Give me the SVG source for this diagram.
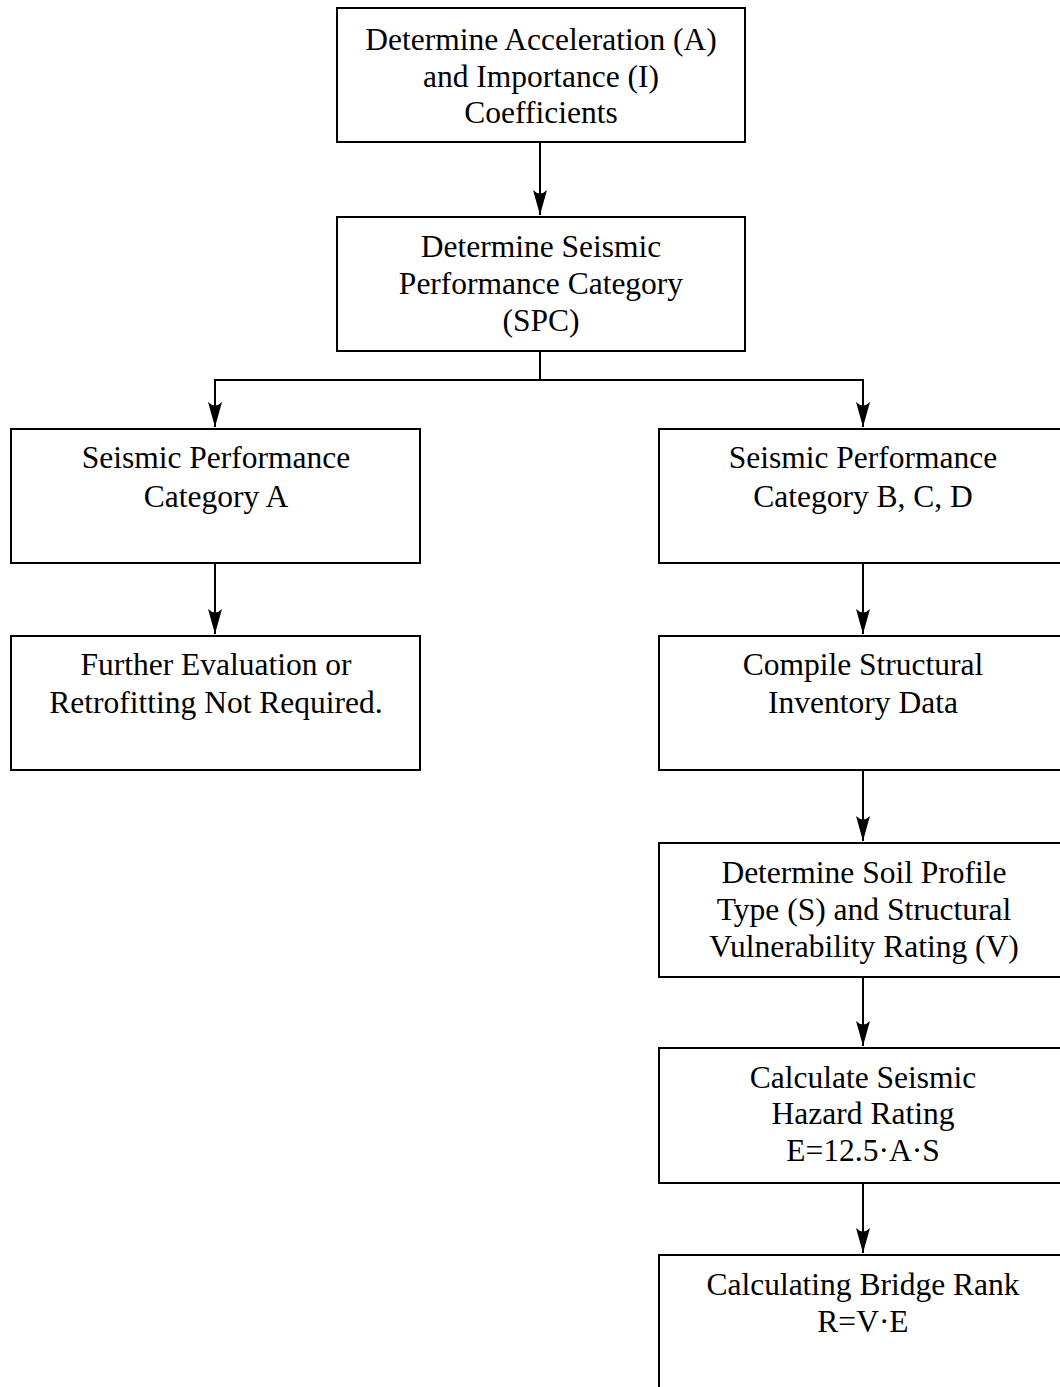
<svg xmlns="http://www.w3.org/2000/svg" width="1060" height="1387" viewBox="0 0 1060 1387">
<style>
.box{fill:#fff;stroke:#000;stroke-width:2}
.t{font-family:"Liberation Serif","Times New Roman",serif;font-size:31.5px;fill:#000;text-anchor:middle}
.c{fill:none;stroke:#000;stroke-width:2}
</style>
<defs>
<marker id="ah" markerUnits="userSpaceOnUse" markerWidth="28" markerHeight="16" viewBox="-26 -8 28 16" refX="0" refY="0" orient="auto" overflow="visible">
<path d="M0,0 L-25,-7 Q-18,0 -25,7 Z" fill="#000"/>
</marker>
</defs>
<rect width="1060" height="1387" fill="#fff"/>
<g id="connectors">
<path class="c" d="M540,142 V215" marker-end="url(#ah)"/>
<path class="c" d="M540,351 V380"/>
<path class="c" d="M540,380 H215 V427" marker-end="url(#ah)"/>
<path class="c" d="M540,380 H863 V427" marker-end="url(#ah)"/>
<path class="c" d="M215,563 V634" marker-end="url(#ah)"/>
<path class="c" d="M863,563 V634" marker-end="url(#ah)"/>
<path class="c" d="M863,770 V841" marker-end="url(#ah)"/>
<path class="c" d="M863,977 V1046" marker-end="url(#ah)"/>
<path class="c" d="M863,1183 V1253" marker-end="url(#ah)"/>
</g>
<g id="n1"><rect class="box" x="337" y="8" width="408" height="134"/>
<text class="t" x="541" y="50">Determine Acceleration (A)</text>
<text class="t" x="541" y="87">and Importance (I)</text>
<text class="t" x="541" y="123">Coefficients</text></g>
<g id="n2"><rect class="box" x="337" y="217" width="408" height="134"/>
<text class="t" x="541" y="257">Determine Seismic</text>
<text class="t" x="541" y="294">Performance Category</text>
<text class="t" x="541" y="331">(SPC)</text></g>
<g id="n3"><rect class="box" x="11" y="429" width="409" height="134"/>
<text class="t" x="216" y="468">Seismic Performance</text>
<text class="t" x="216" y="507">Category A</text></g>
<g id="n4"><rect class="box" x="659" y="429" width="408" height="134"/>
<text class="t" x="863" y="468">Seismic Performance</text>
<text class="t" x="863" y="507">Category B, C, D</text></g>
<g id="n5"><rect class="box" x="11" y="636" width="409" height="134"/>
<text class="t" x="216" y="675">Further Evaluation or</text>
<text class="t" x="216" y="713">Retrofitting Not Required.</text></g>
<g id="n6"><rect class="box" x="659" y="636" width="408" height="134"/>
<text class="t" x="863" y="675">Compile Structural</text>
<text class="t" x="863" y="713">Inventory Data</text></g>
<g id="n7"><rect class="box" x="659" y="843" width="408" height="134"/>
<text class="t" x="864" y="883">Determine Soil Profile</text>
<text class="t" x="864" y="920">Type (S) and Structural</text>
<text class="t" x="864" y="957">Vulnerability Rating (V)</text></g>
<g id="n8"><rect class="box" x="659" y="1048" width="408" height="135"/>
<text class="t" x="863" y="1088">Calculate Seismic</text>
<text class="t" x="863" y="1124">Hazard Rating</text>
<text class="t" x="863" y="1161">E=12.5·A·S</text></g>
<g id="n9"><rect class="box" x="659" y="1255" width="408" height="140"/>
<text class="t" x="863" y="1295">Calculating Bridge Rank</text>
<text class="t" x="863" y="1332">R=V·E</text></g>
</svg>
